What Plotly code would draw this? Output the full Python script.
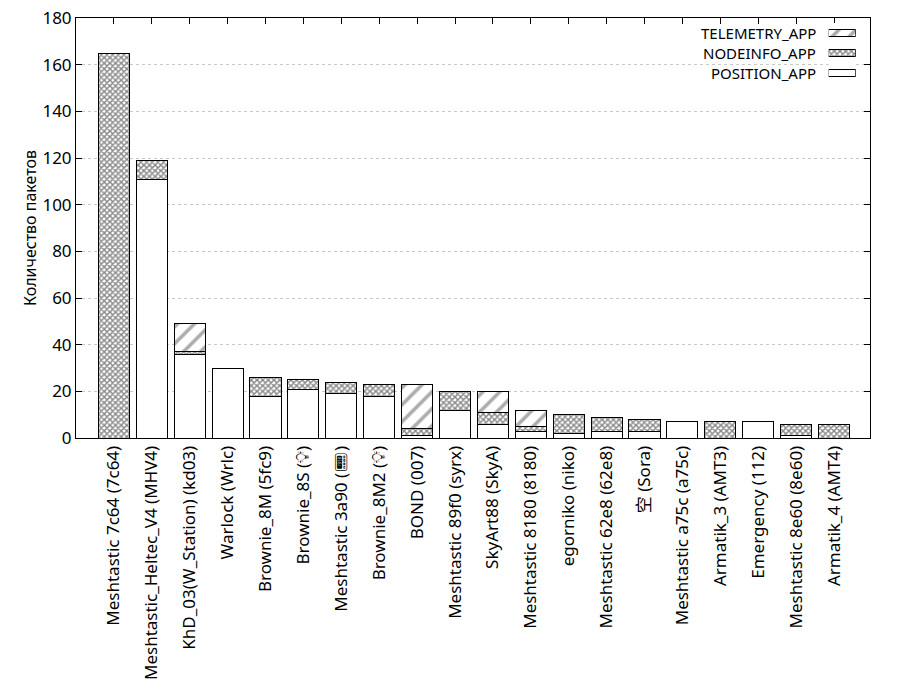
import plotly.graph_objects as go

# узлы сети и количество пакетов по типам
nodes = [
    "Meshtastic 7c64 (7c64)",
    "Meshtastic_Heltec_V4 (MHV4)",
    "KhD_03(W_Station) (kd03)",
    "Warlock (Wrlc)",
    "Brownie_8M (5fc9)",
    "Brownie_8S (💡\ufe0e)",
    "Meshtastic 3a90 (📟\ufe0e)",
    "Brownie_8M2 (💡\ufe0e)",
    "BOND (007)",
    "Meshtastic 89f0 (syrx)",
    "SkyArt88 (SkyA)",
    "Meshtastic 8180 (8180)",
    "egorniko (niko)",
    "Meshtastic 62e8 (62e8)",
    "空 (Sora)",
    "Meshtastic a75c (a75c)",
    "Armatik_3 (AMT3)",
    "Emergency (112)",
    "Meshtastic 8e60 (8e60)",
    "Armatik_4 (AMT4)",
]
position_app = [0, 111, 36, 30, 18, 21, 19, 18, 1, 12, 6, 3, 2, 3, 3, 7, 0, 7, 1, 0]
nodeinfo_app = [165, 8, 1, 0, 8, 4, 5, 5, 3, 8, 5, 2, 8, 6, 5, 0, 7, 0, 5, 6]
telemetry_app = [0, 0, 12, 0, 0, 0, 0, 0, 19, 0, 9, 7, 0, 0, 0, 0, 0, 0, 0, 0]

y_ticks = [0, 20, 40, 60, 80, 100, 120, 140, 160, 180]

FONT = "Noto Sans, DejaVu Sans, Noto Sans CJK SC, sans-serif"
outline = dict(color="black", width=1)

styles = {
    "POSITION_APP": dict(color="white", line=outline),
    "NODEINFO_APP": dict(color="white", line=outline,
                         pattern=dict(shape="x", size=4, solidity=0.6,
                                      fgcolor="#101010", bgcolor="white")),
    "TELEMETRY_APP": dict(color="white", line=outline,
                          pattern=dict(shape="/", size=12, solidity=0.3,
                                       fgcolor="#5a5a5a", bgcolor="white")),
}
series = [("POSITION_APP", position_app),
          ("NODEINFO_APP", nodeinfo_app),
          ("TELEMETRY_APP", telemetry_app)]


def no_zero(vals):
    # нулевые сегменты не рисуем, иначе остаётся жирная линия
    return [v if v else None for v in vals]


fig = go.Figure()
for name, vals in series:
    fig.add_trace(go.Bar(x=nodes, y=no_zero(vals), name=name,
                         marker=styles[name], showlegend=False))

# легенда как у gnuplot: подпись слева, образец справа
for name, _ in series:
    fig.add_trace(go.Bar(x=[1], y=[name], orientation="h", width=0.34,
                         marker=styles[name], xaxis="x2", yaxis="y2",
                         showlegend=False, hoverinfo="skip"))
    fig.add_annotation(text=name, xref="x2 domain", x=0, xanchor="right",
                       xshift=-12, yref="y2", y=name, yanchor="middle",
                       showarrow=False, borderpad=0, font=dict(size=15))

# подпись оси Y
fig.add_annotation(text="Количество пакетов", xref="paper", yref="paper",
                   x=-0.0743, y=0.5, textangle=-90, showarrow=False,
                   font=dict(size=16))

fig.update_layout(
    width=900, height=700,
    barmode="stack", bargap=0.18,
    plot_bgcolor="white", paper_bgcolor="white",
    font=dict(family=FONT, size=17, color="black"),
    margin=dict(l=76, r=30, t=18, b=262),
    xaxis=dict(
        range=[-1, 19.95], tickangle=-90, automargin=False,
        showline=True, linecolor="black", linewidth=1, mirror="ticks",
        ticks="inside", ticklen=6, tickcolor="black",
        layer="below traces", showgrid=False,
    ),
    yaxis=dict(
        range=[0, 180], tickvals=y_ticks, automargin=False,
        ticklabeloverflow="allow",
        showline=True, linecolor="black", linewidth=1, mirror="ticks",
        ticks="inside", ticklen=6, tickcolor="black",
        showgrid=True, gridcolor="#c8c8c8", griddash="dot", gridwidth=1,
        zeroline=False, layer="below traces",
    ),
    xaxis2=dict(domain=[0.948, 0.982], anchor="y2", range=[0, 1],
                visible=False, fixedrange=True),
    yaxis2=dict(domain=[0.845, 0.988], anchor="x2", range=[-0.5, 2.5],
                categoryorder="array",
                categoryarray=[s[0] for s in series],
                visible=False, fixedrange=True),
)

# убираем стандартный отступ страницы в 8px и панель инструментов
fig.write_html("out.html", config={"displayModeBar": False},
               post_script="document.body.style.margin='0px';")
